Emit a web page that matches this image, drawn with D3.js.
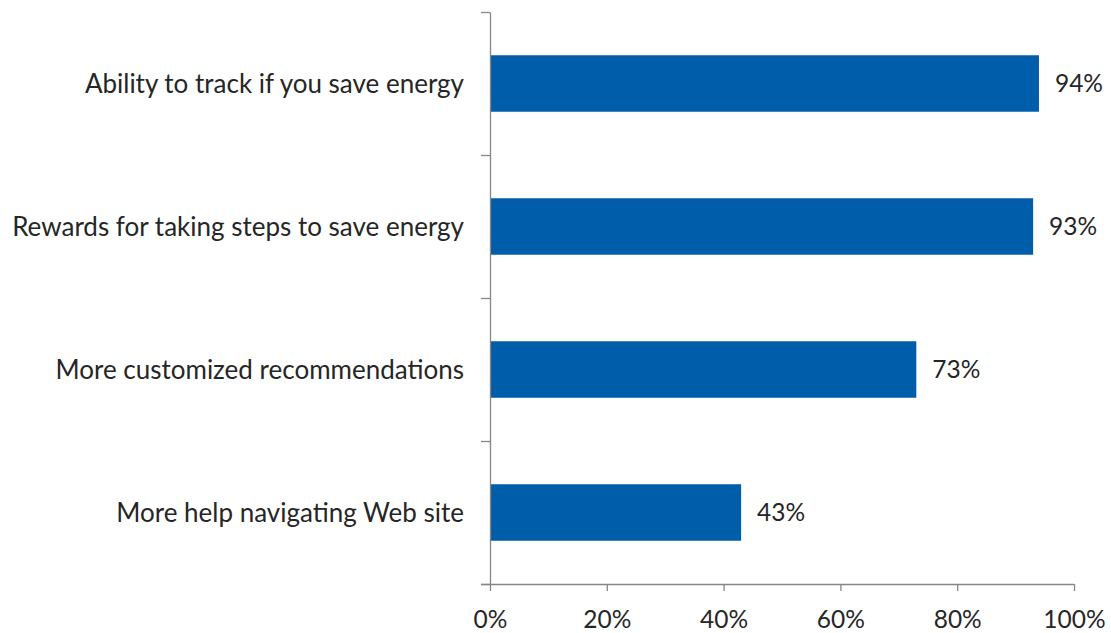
<!DOCTYPE html>
<html>
<head>
<meta charset="utf-8">
<script src="https://cdn.jsdelivr.net/npm/d3@7"></script>
<style>
  html, body { margin: 0; padding: 0; background: #ffffff; }
  svg { display: block; }
  text { font-family: Lato, "Open Sans", sans-serif; fill: #262626; }
</style>
</head>
<body>
<svg id="chart" width="1111" height="633"></svg>
<script>
// Survey features and the share of respondents who want each
const categories = [
  "Ability to track if you save energy",
  "Rewards for taking steps to save energy",
  "More customized recommendations",
  "More help navigating Web site"
];
const values = [94, 93, 73, 43];
const xTicks = [0, 20, 40, 60, 80, 100];

const svg = d3.select("#chart");
const plot = { left: 490, right: 1074, top: 12, bottom: 584 };
const barColor = "#005DAA";
const axisColor = "#868686";
const labelSize = 26;
const numberSize = 24.5;

const x = d3.scaleLinear().domain([0, 100]).range([plot.left, plot.right]);
const y = d3.scaleBand()
  .domain(categories)
  .range([plot.top, plot.bottom])
  .paddingInner(0.605)
  .paddingOuter(0.3025);

// Bars
svg.append("g").selectAll("rect")
  .data(values)
  .join("rect")
  .attr("x", x(0))
  .attr("y", (d, i) => y(categories[i]))
  .attr("width", d => x(d) - x(0))
  .attr("height", y.bandwidth())
  .attr("fill", barColor);

// Value labels
svg.append("g").selectAll("text")
  .data(values)
  .join("text")
  .attr("x", d => x(d) + 16)
  .attr("y", (d, i) => y(categories[i]) + y.bandwidth() / 2)
  .attr("dy", "0.35em")
  .attr("font-size", numberSize)
  .text(d => d + "%");

// Category axis: ticks at band boundaries
const yEdge = d3.scaleLinear().domain([0, categories.length]).range([plot.top, plot.bottom]);
const yAxis = svg.append("g")
  .attr("transform", `translate(${plot.left},0)`)
  .call(d3.axisLeft(yEdge).tickValues(d3.range(categories.length + 1)).tickSize(9).tickSizeOuter(0).tickFormat(""));
yAxis.selectAll("path, line").attr("stroke", axisColor).attr("stroke-width", 1.3);

// Category labels
svg.append("g").selectAll("text")
  .data(categories)
  .join("text")
  .attr("x", plot.left - 26)
  .attr("y", d => y(d) + y.bandwidth() / 2)
  .attr("dy", "0.35em")
  .attr("text-anchor", "end")
  .attr("font-size", labelSize)
  .text(d => d);

// Value axis
const xAxis = svg.append("g")
  .attr("transform", `translate(0,${plot.bottom})`)
  .call(d3.axisBottom(x).tickValues(xTicks).tickSize(7).tickSizeOuter(0).tickPadding(19.5).tickFormat(d => d + "%"));
xAxis.selectAll("path, line").attr("stroke", axisColor).attr("stroke-width", 1.3);
xAxis.select(".domain").attr("d", `M${plot.left - 9},0.5H${plot.right}`);
xAxis.selectAll("text").attr("font-size", numberSize).attr("font-family", "Lato, 'Open Sans', sans-serif").attr("fill", "#262626");
</script>
</body>
</html>
